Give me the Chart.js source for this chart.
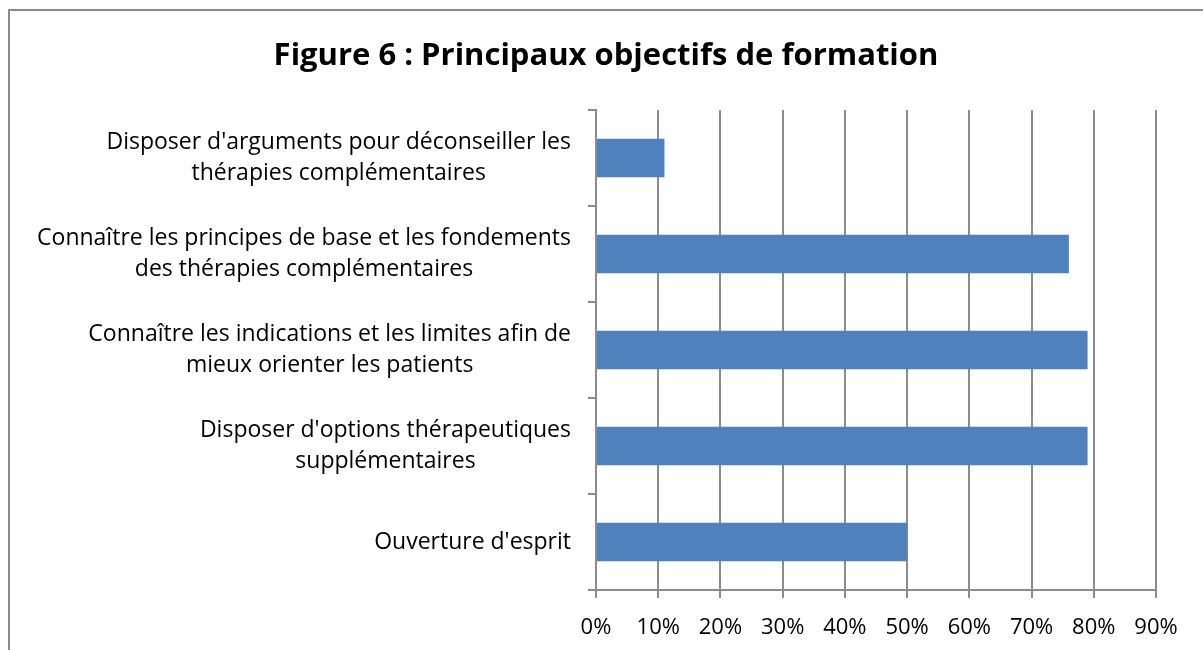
<!DOCTYPE html>
<html>
<head>
<meta charset="utf-8">
<script src="https://cdn.jsdelivr.net/npm/chart.js@4.4.1/dist/chart.umd.min.js"></script>
<style>
  body { margin: 0; background: #fff; }
  #frame { position: absolute; left: 8px; top: 9px; width: 1300px; height: 700px;
           border-left: 2px solid #8a8a8a; border-top: 2px solid #8a8a8a; }
  #wrap { position: absolute; left: 0; top: 0; width: 1203px; height: 650px; }
</style>
</head>
<body>
<div id="frame"></div>
<div id="wrap"><canvas id="objChart"></canvas></div>
<script>
// categories, top to bottom
const categories = [
    ["Disposer d'arguments pour déconseiller les", "thérapies complémentaires"],
    ["Connaître les principes de base et les fondements", "des thérapies complémentaires"],
    ["Connaître les indications et les limites afin de", "mieux orienter les patients"],
    ["Disposer d'options thérapeutiques", "supplémentaires"],
    ["Ouverture d'esprit"]
];
const percentValues = [11, 76, 79, 79, 50];
const xTicks = [0, 10, 20, 30, 40, 50, 60, 70, 80, 90];
const chartTitle = 'Figure 6 : Principaux objectifs de formation';

const labelFont = '23px "Open Sans", sans-serif';
const gridColor = '#8c8c8c';

// title + y labels (right-aligned block, lines centred like Excel)
const textPlugin = {
    id: 'texts',
    afterDraw(chart) {
        const ctx = chart.ctx;
        const yScale = chart.scales.y;
        const right = yScale.right - 25;
        const lineH = 31;
        ctx.save();
        ctx.fillStyle = '#000';
        ctx.textAlign = 'center';
        ctx.textBaseline = 'middle';
        ctx.font = 'bold 31px "Open Sans", sans-serif';
        ctx.fillText(chartTitle, 606, 56);
        ctx.font = labelFont;
        categories.forEach((lines, i) => {
            const w = Math.max(...lines.map(l => ctx.measureText(l).width));
            const cx = right - w / 2;
            const cy = yScale.getPixelForValue(i);
            const y0 = cy - (lines.length - 1) * lineH / 2;
            lines.forEach((l, j) => ctx.fillText(l, cx, y0 + j * lineH));
        });
        ctx.restore();
    }
};

const objChart = new Chart(document.getElementById('objChart').getContext('2d'), {
    type: 'bar',
    data: {
        labels: categories,
        datasets: [{
            data: percentValues,
            backgroundColor: '#4f81bd',
            borderWidth: 0,
            barPercentage: 0.4,
            categoryPercentage: 1
        }]
    },
    options: {
        indexAxis: 'y',
        responsive: true,
        maintainAspectRatio: false,
        animation: false,
        layout: { padding: { left: 0, right: 47, top: 110, bottom: 0 } },
        scales: {
            x: {
                min: 0,
                max: 90,
                afterBuildTicks: (scale) => { scale.ticks = xTicks.map(v => ({ value: v })); },
                afterFit: (scale) => { scale.height = 60; },
                grid: { color: gridColor, lineWidth: 2, tickLength: 8 },
                border: { color: gridColor, width: 2 },
                ticks: {
                    padding: 17,
                    color: '#000',
                    font: { family: '"Open Sans", sans-serif', size: 22 },
                    callback: (v) => v + '%'
                }
            },
            y: {
                afterFit: (scale) => { scale.width = 596; },
                grid: { drawOnChartArea: false, offset: true, color: gridColor, lineWidth: 2, tickLength: 8 },
                border: { color: gridColor, width: 2 },
                ticks: { display: false }
            }
        },
        plugins: {
            legend: { display: false },
            tooltip: { enabled: false },
            title: { display: false }
        }
    },
    plugins: [textPlugin]
});
</script>
</body>
</html>
